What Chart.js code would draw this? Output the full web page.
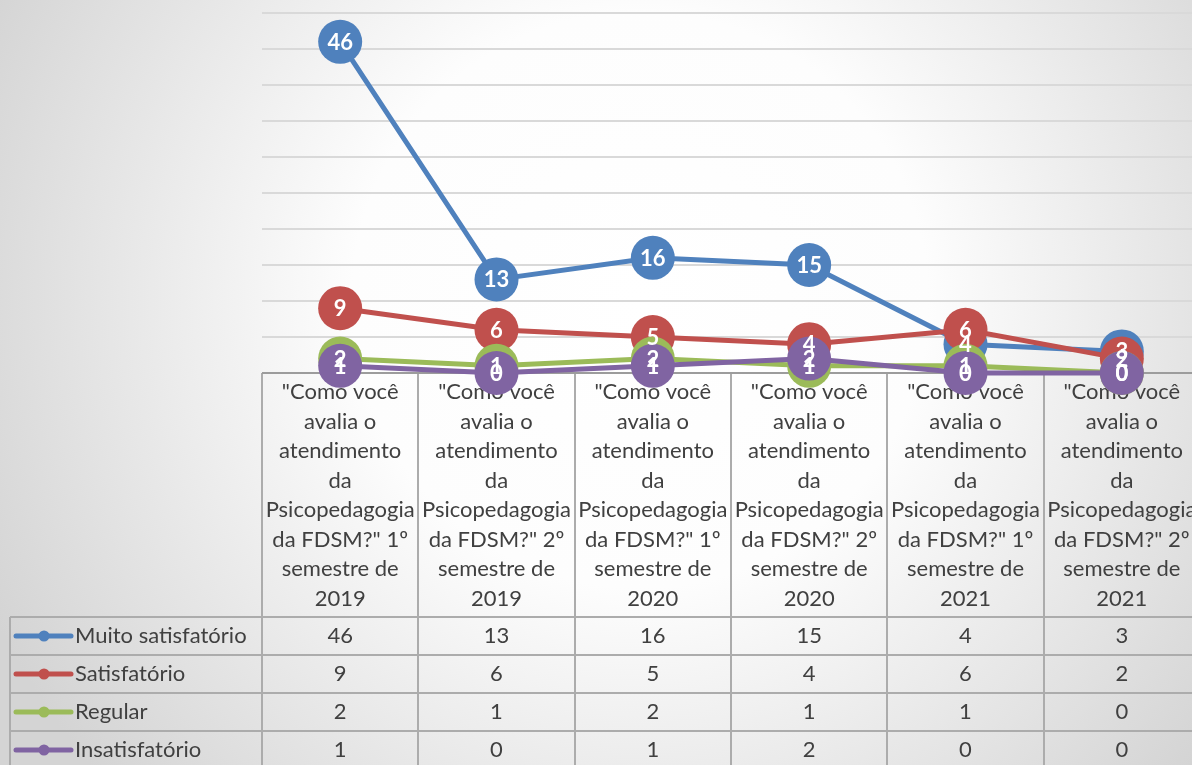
<!DOCTYPE html>
<html>
<head>
<meta charset="utf-8">
<script src="https://cdn.jsdelivr.net/npm/chart.js@4/dist/chart.umd.min.js"></script>
<style>
    html, body { margin: 0; padding: 0; overflow: hidden; background: #ffffff; }
    #wrap { width: 1200px; height: 765px; }
</style>
</head>
<body>
<div id="wrap"><canvas id="avaliacaoChart" width="1200" height="765"></canvas></div>
<script>
// Categories (already wrapped the way the table header shows them)
const categories = [
    ['"Como você', 'avalia o', 'atendimento', 'da', 'Psicopedagogia', 'da FDSM?" 1º', 'semestre de', '2019'],
    ['"Como você', 'avalia o', 'atendimento', 'da', 'Psicopedagogia', 'da FDSM?" 2º', 'semestre de', '2019'],
    ['"Como você', 'avalia o', 'atendimento', 'da', 'Psicopedagogia', 'da FDSM?" 1º', 'semestre de', '2020'],
    ['"Como você', 'avalia o', 'atendimento', 'da', 'Psicopedagogia', 'da FDSM?" 2º', 'semestre de', '2020'],
    ['"Como você', 'avalia o', 'atendimento', 'da', 'Psicopedagogia', 'da FDSM?" 1º', 'semestre de', '2021'],
    ['"Como você', 'avalia o', 'atendimento', 'da', 'Psicopedagogia', 'da FDSM?" 2º', 'semestre de', '2021']
];

const seriesNames = ['Muito satisfatório', 'Satisfatório', 'Regular', 'Insatisfatório'];
const muitoSatisfatorio = [46, 13, 16, 15, 4, 3];
const satisfatorio = [9, 6, 5, 4, 6, 2];
const regular = [2, 1, 2, 1, 1, 0];
const insatisfatorio = [1, 0, 1, 2, 0, 0];

const seriesColors = ['#4f81bd', '#c0504d', '#9bbb59', '#8064a2'];
const yMax = 50;
const yStep = 5;

const textColor = '#404040';
const fontFamily = 'Lato, Carlito, "Open Sans", sans-serif';

/**
 * Grey radial background like the original sheet chart
 */
const backgroundPlugin = {
    id: 'bgGradient',
    beforeDraw(chart) {
        const ctx = chart.ctx;
        const g = ctx.createRadialGradient(640, 300, 0, 640, 300, 720);
        g.addColorStop(0, '#ffffff');
        g.addColorStop(0.4, '#fdfdfd');
        g.addColorStop(1, '#d4d4d4');
        ctx.save();
        ctx.fillStyle = g;
        ctx.fillRect(0, 0, chart.width, chart.height);
        ctx.restore();
    }
};

/**
 * Data table under the plot (header with categories + one row per series)
 */
const dataTablePlugin = {
    id: 'dataTable',
    beforeDatasetsDraw(chart) {
        const ctx = chart.ctx;
        const x = chart.scales.x;
        const area = chart.chartArea;
        const colW = (area.right - area.left) / categories.length;
        const top = area.bottom;
        const headerBottom = top + 244;
        const rowH = 38;
        const legendLeft = 10;
        const bottom = chart.height + 10;

        ctx.save();
        ctx.strokeStyle = '#acacac';
        ctx.lineWidth = 2;

        // vertical column lines
        for (let i = 0; i <= categories.length; i++) {
            const lx = Math.round(area.left + i * colW);
            ctx.beginPath();
            ctx.moveTo(lx, top);
            ctx.lineTo(lx, bottom);
            ctx.stroke();
        }
        ctx.beginPath();
        ctx.moveTo(legendLeft, headerBottom);
        ctx.lineTo(legendLeft, bottom);
        ctx.stroke();

        // horizontal row lines
        for (let r = 0; r < seriesNames.length; r++) {
            const ly = headerBottom + r * rowH;
            ctx.beginPath();
            ctx.moveTo(legendLeft, ly);
            ctx.lineTo(area.right, ly);
            ctx.stroke();
        }

        // axis line (top of the table)
        ctx.strokeStyle = '#9c9c9c';
        ctx.beginPath();
        ctx.moveTo(area.left, top);
        ctx.lineTo(area.right, top);
        ctx.stroke();

        // header text
        ctx.fillStyle = textColor;
        ctx.font = '22px ' + fontFamily;
        ctx.textAlign = 'center';
        ctx.textBaseline = 'middle';
        categories.forEach((lines, i) => {
            const cx = x.getPixelForValue(i);
            lines.forEach((line, j) => {
                ctx.fillText(line, cx, top + 19 + j * 29.5);
            });
        });

        // rows: legend key + values
        const allSeries = [muitoSatisfatorio, satisfatorio, regular, insatisfatorio];
        allSeries.forEach((values, r) => {
            const cy = headerBottom + r * rowH + rowH / 2;
            ctx.strokeStyle = seriesColors[r];
            ctx.fillStyle = seriesColors[r];
            ctx.lineWidth = 5;
            ctx.lineCap = 'round';
            ctx.beginPath();
            ctx.moveTo(16, cy);
            ctx.lineTo(71, cy);
            ctx.stroke();
            ctx.beginPath();
            ctx.arc(44, cy, 5.5, 0, Math.PI * 2);
            ctx.fill();

            ctx.fillStyle = textColor;
            ctx.textAlign = 'left';
            ctx.fillText(seriesNames[r], 75, cy);
            ctx.textAlign = 'center';
            values.forEach((v, i) => {
                ctx.fillText(String(v), x.getPixelForValue(i), cy);
            });
        });
        ctx.restore();
    }
};

/**
 * White value labels inside the markers
 */
const valueLabelPlugin = {
    id: 'valueLabels',
    afterDatasetsDraw(chart) {
        const ctx = chart.ctx;
        ctx.save();
        ctx.fillStyle = '#ffffff';
        ctx.font = 'bold 22px ' + fontFamily;
        ctx.textAlign = 'center';
        ctx.textBaseline = 'middle';
        chart.data.datasets.forEach((ds, d) => {
            const meta = chart.getDatasetMeta(d);
            meta.data.forEach((pt, i) => {
                ctx.fillText(String(ds.data[i]), pt.x, pt.y + 1);
            });
        });
        ctx.restore();
    }
};

function makeDataset(label, data, color, order) {
    return {
        label: label,
        data: data,
        borderColor: color,
        backgroundColor: color,
        borderWidth: 5,
        pointRadius: 22,
        pointHoverRadius: 22,
        pointBorderWidth: 0,
        pointBackgroundColor: color,
        tension: 0,
        clip: false,
        order: order
    };
}

const ctx = document.getElementById('avaliacaoChart').getContext('2d');
new Chart(ctx, {
    type: 'line',
    data: {
        labels: categories,
        datasets: [
            makeDataset(seriesNames[0], muitoSatisfatorio, seriesColors[0], 3),
            makeDataset(seriesNames[1], satisfatorio, seriesColors[1], 2),
            makeDataset(seriesNames[2], regular, seriesColors[2], 1),
            makeDataset(seriesNames[3], insatisfatorio, seriesColors[3], 0)
        ]
    },
    options: {
        responsive: false,
        animation: false,
        events: [],
        layout: {
            autoPadding: false,
            padding: { left: 262, top: 13, right: 0, bottom: 392 }
        },
        scales: {
            x: {
                display: false,
                offset: true
            },
            y: {
                min: 0,
                max: yMax,
                ticks: { display: false, stepSize: yStep },
                grid: { color: '#d9d9d9', lineWidth: 2, drawTicks: false },
                border: { display: false },
                afterFit(scale) { scale.width = 0; }
            }
        },
        plugins: {
            legend: { display: false },
            tooltip: { enabled: false }
        }
    },
    plugins: [backgroundPlugin, dataTablePlugin, valueLabelPlugin]
});
</script>
</body>
</html>
